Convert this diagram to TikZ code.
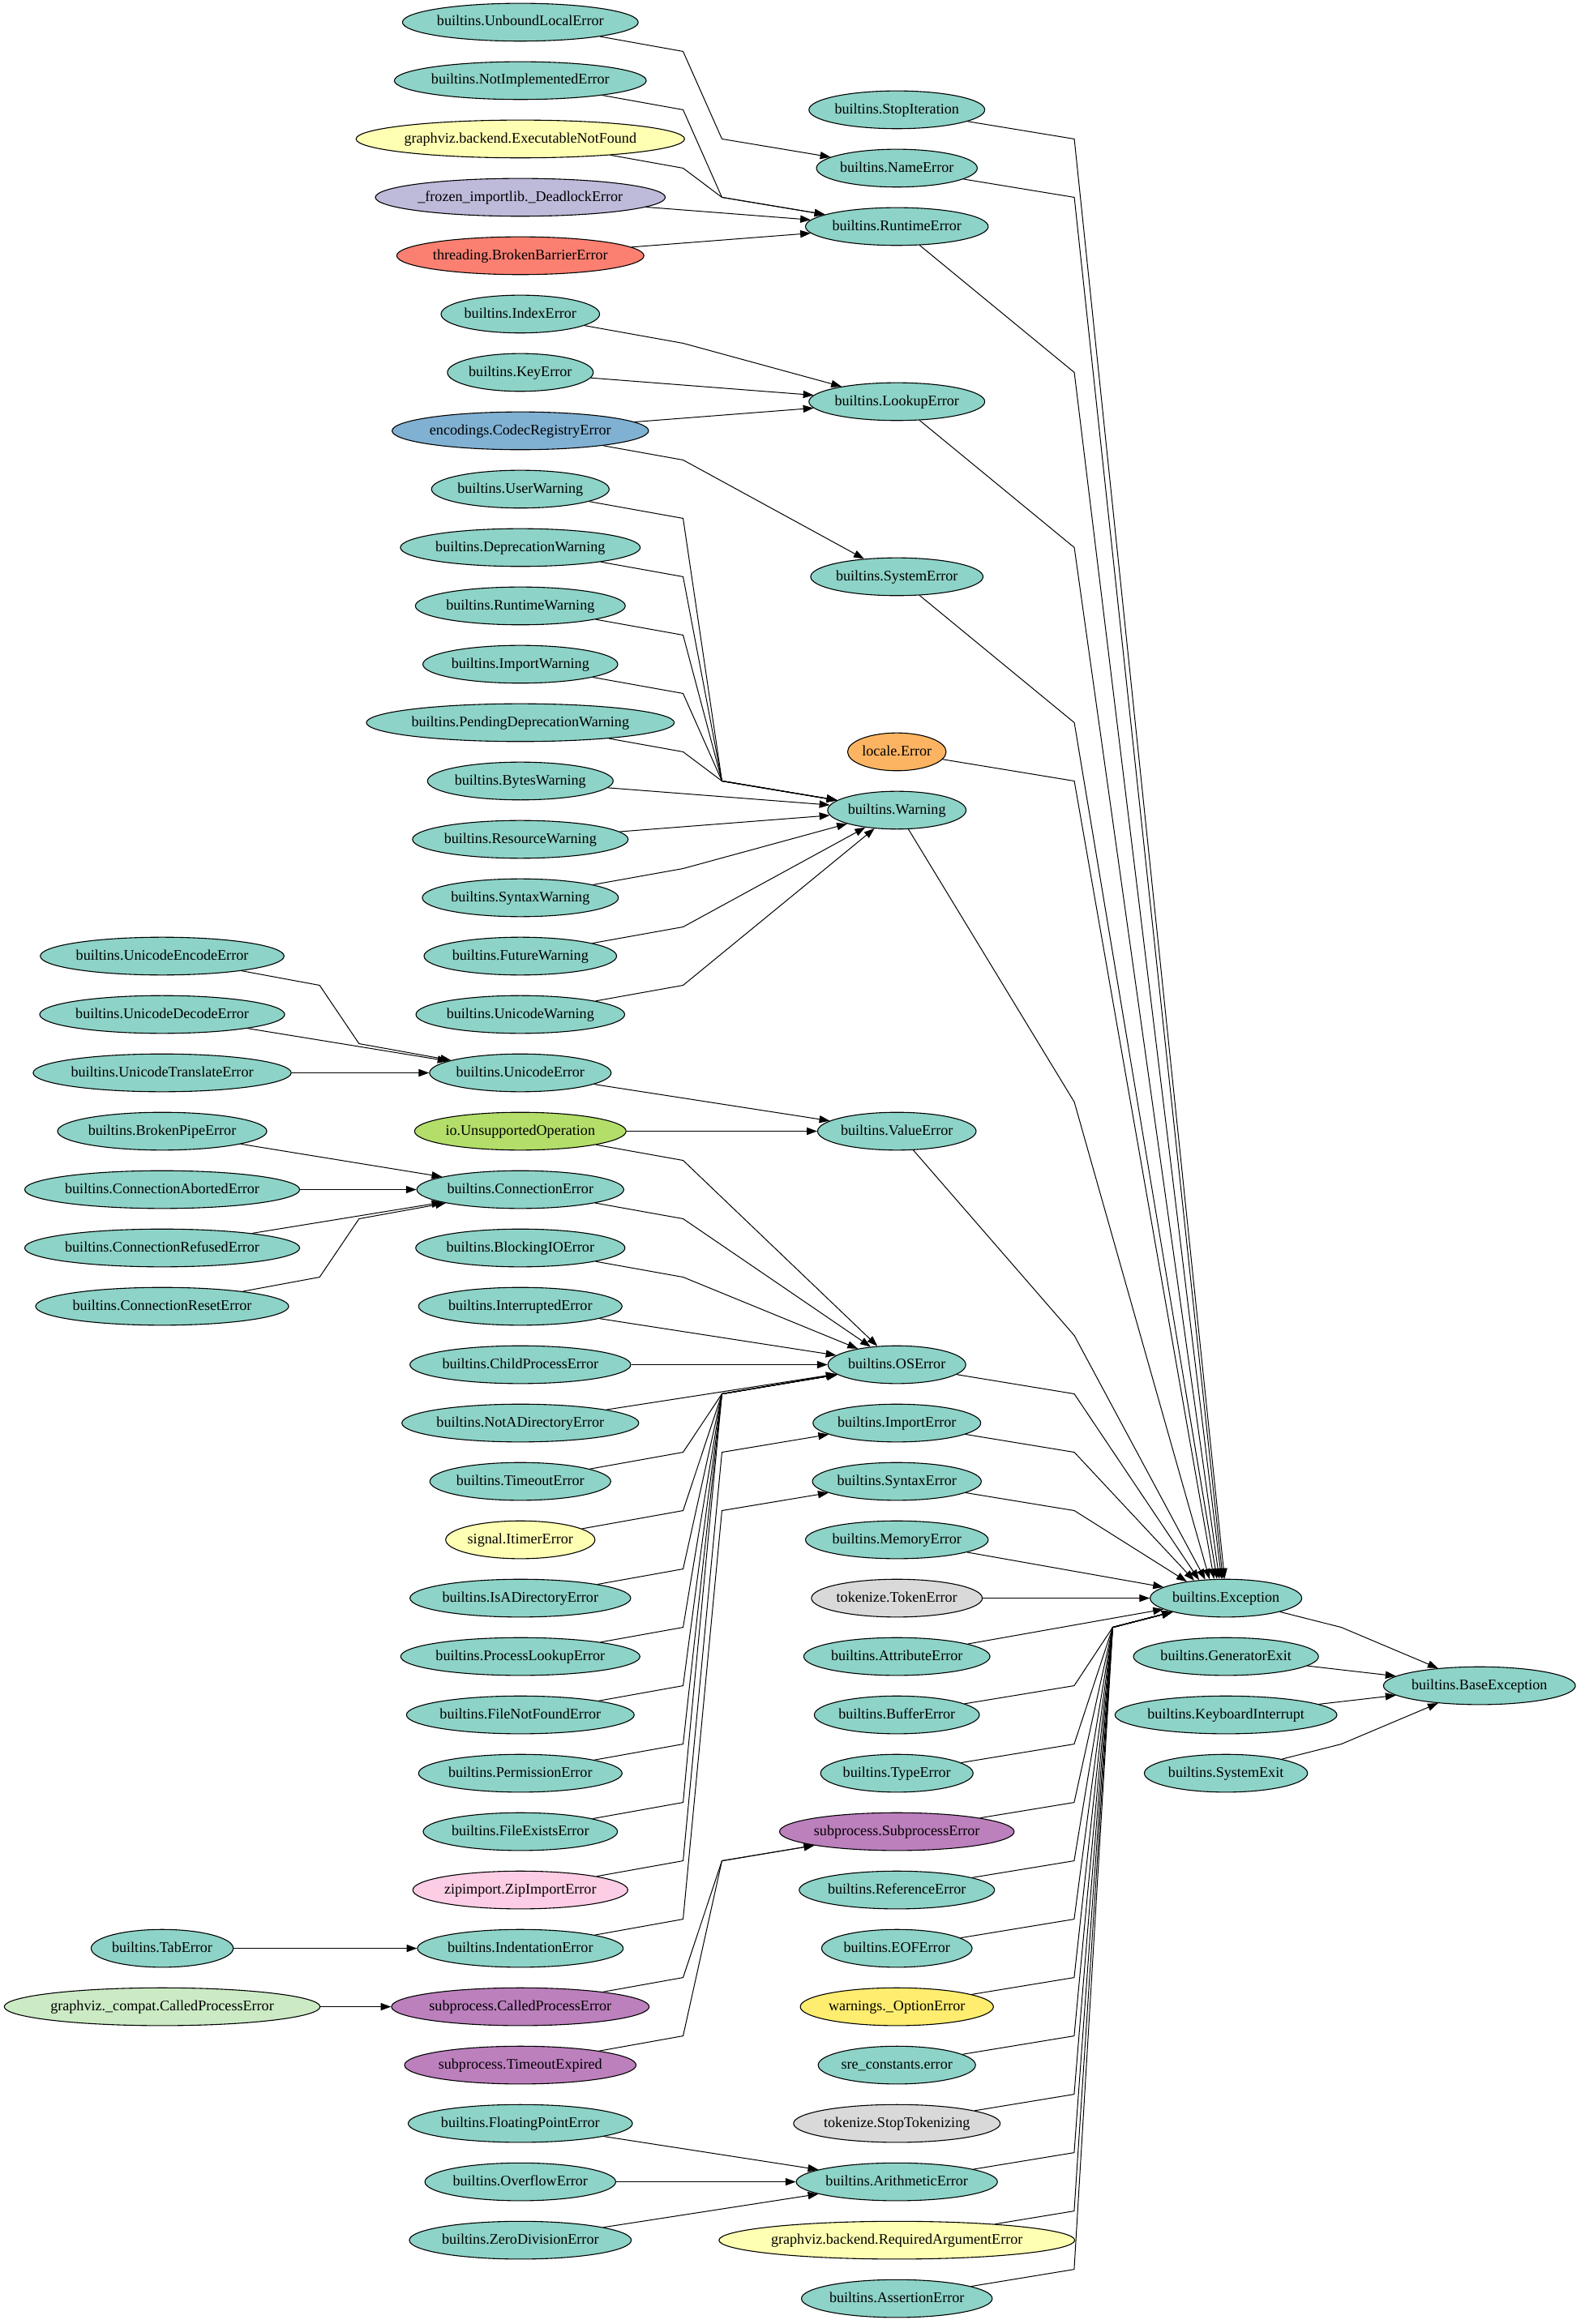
\documentclass[tikz,border=0pt]{standalone}
\usepackage{fontspec}
\setmainfont{Liberation Serif}
\usetikzlibrary{arrows.meta,shapes.geometric}
\definecolor{setteal}{HTML}{8DD3C7}
\definecolor{setyellow}{HTML}{FFFFB3}
\definecolor{setlav}{HTML}{BEBADA}
\definecolor{setsalmon}{HTML}{FB8072}
\definecolor{setblue}{HTML}{80B1D3}
\definecolor{setorange}{HTML}{FDB462}
\definecolor{setgreen}{HTML}{B3DE69}
\definecolor{setpink}{HTML}{FCCDE5}
\definecolor{setgrey}{HTML}{D9D9D9}
\definecolor{setpurple}{HTML}{BC80BD}
\definecolor{setmint}{HTML}{CCEBC5}
\definecolor{setgold}{HTML}{FFED6F}

\begin{document}
\begin{tikzpicture}[x=1pt,y=-1pt,
  exnode/.style={ellipse,draw,line width=0.6pt,inner xsep=0pt,inner ysep=0pt,minimum height=25.5pt,text height=7pt,text depth=2pt,font=\fontsize{9.9}{12}\selectfont},
  link/.style={-{Triangle[length=7pt,width=5pt]},line width=0.55pt},
  declare function={ry(\k)=15+39.38*\k;}]
  \useasboundingbox (0,0) rectangle (1069,1568);

  \foreach \n/\k/\c/\t in {encode/16/setteal/builtins.UnicodeEncodeError, decode/17/setteal/builtins.UnicodeDecodeError,
      translate/18/setteal/builtins.UnicodeTranslateError, brokenpipe/19/setteal/builtins.BrokenPipeError,
      aborted/20/setteal/builtins.ConnectionAbortedError, refused/21/setteal/builtins.ConnectionRefusedError,
      reset/22/setteal/builtins.ConnectionResetError, taberr/33/setteal/builtins.TabError,
      gvcalled/34/setmint/graphviz.\_compat.CalledProcessError}{
    \node[exnode,fill=\c] (\n) at (109.4,{ry(\k)}) {\t};
  }

  \foreach \n/\k/\c/\t in {unbound/0/setteal/builtins.UnboundLocalError, notimpl/1/setteal/builtins.NotImplementedError,
      execnf/2/setyellow/graphviz.backend.ExecutableNotFound, deadlock/3/setlav/\_frozen\_importlib.\_DeadlockError,
      barrier/4/setsalmon/threading.BrokenBarrierError, indexerr/5/setteal/builtins.IndexError,
      keyerr/6/setteal/builtins.KeyError, codec/7/setblue/encodings.CodecRegistryError,
      userw/8/setteal/builtins.UserWarning, depw/9/setteal/builtins.DeprecationWarning,
      rtw/10/setteal/builtins.RuntimeWarning, impw/11/setteal/builtins.ImportWarning,
      pendw/12/setteal/builtins.PendingDeprecationWarning, bytesw/13/setteal/builtins.BytesWarning,
      resw/14/setteal/builtins.ResourceWarning, synw/15/setteal/builtins.SyntaxWarning,
      futw/16/setteal/builtins.FutureWarning, uniw/17/setteal/builtins.UnicodeWarning,
      unicerr/18/setteal/builtins.UnicodeError, iounsup/19/setgreen/io.UnsupportedOperation,
      connerr/20/setteal/builtins.ConnectionError, blocking/21/setteal/builtins.BlockingIOError,
      interrupted/22/setteal/builtins.InterruptedError, childproc/23/setteal/builtins.ChildProcessError,
      notadir/24/setteal/builtins.NotADirectoryError, timeout/25/setteal/builtins.TimeoutError,
      itimer/26/setyellow/signal.ItimerError, isadir/27/setteal/builtins.IsADirectoryError,
      proclookup/28/setteal/builtins.ProcessLookupError, filenf/29/setteal/builtins.FileNotFoundError,
      permission/30/setteal/builtins.PermissionError, fileexists/31/setteal/builtins.FileExistsError,
      zipimp/32/setpink/zipimport.ZipImportError, indent/33/setteal/builtins.IndentationError,
      called/34/setpurple/subprocess.CalledProcessError, tmoexp/35/setpurple/subprocess.TimeoutExpired,
      floatpt/36/setteal/builtins.FloatingPointError, overflow/37/setteal/builtins.OverflowError,
      zerodiv/38/setteal/builtins.ZeroDivisionError}{
    \node[exnode,fill=\c] (\n) at (351,{ry(\k)}) {\t};
  }

  \foreach \n/\k/\c/\t in {stopit/1.5/setteal/builtins.StopIteration, nameerr/2.5/setteal/builtins.NameError,
      runtime/3.5/setteal/builtins.RuntimeError, lookup/6.5/setteal/builtins.LookupError,
      syserr/9.5/setteal/builtins.SystemError, localeerr/12.5/setorange/locale.Error,
      warn/13.5/setteal/builtins.Warning, valueerr/19/setteal/builtins.ValueError,
      oserr/23/setteal/builtins.OSError, importerr/24/setteal/builtins.ImportError,
      syntaxerr/25/setteal/builtins.SyntaxError, memory/26/setteal/builtins.MemoryError,
      tokenerr/27/setgrey/tokenize.TokenError, attr/28/setteal/builtins.AttributeError,
      buffer/29/setteal/builtins.BufferError, typeerr/30/setteal/builtins.TypeError,
      subperr/31/setpurple/subprocess.SubprocessError, referr/32/setteal/builtins.ReferenceError,
      eof/33/setteal/builtins.EOFError, opterr/34/setgold/warnings.\_OptionError,
      sre/35/setteal/sre\_constants.error, stoptok/36/setgrey/tokenize.StopTokenizing,
      arith/37/setteal/builtins.ArithmeticError, reqarg/38/setyellow/graphviz.backend.RequiredArgumentError,
      asserterr/39/setteal/builtins.AssertionError}{
    \node[exnode,fill=\c] (\n) at (605,{ry(\k)}) {\t};
  }

  \foreach \n/\k/\t in {exc/27/builtins.Exception, genexit/28/builtins.GeneratorExit,
      kbint/29/builtins.KeyboardInterrupt, sysexit/30/builtins.SystemExit}{
    \node[exnode,fill=setteal] (\n) at (827,{ry(\k)}) {\t};
  }
  \node[exnode,fill=setteal] (base) at (998,{ry(28.5)}) {builtins.BaseException};

  \foreach \s/\t in {decode/unicerr, translate/unicerr, brokenpipe/connerr, aborted/connerr, refused/connerr,
      taberr/indent, gvcalled/called, deadlock/runtime, barrier/runtime, keyerr/lookup, codec/lookup,
      bytesw/warn, resw/warn, unicerr/valueerr, iounsup/valueerr, interrupted/oserr, childproc/oserr,
      notadir/oserr, floatpt/arith, overflow/arith, zerodiv/arith, memory/exc, tokenerr/exc, attr/exc,
      genexit/base, kbint/base}{
    \draw[link] (\s) -- (\t);
  }

  \draw[link] (encode) -- (215.6,{ry(16.5)}) -- (242.2,{ry(17.5)}) -- (unicerr);
  \draw[link] (reset) -- (215.6,{ry(21.5)}) -- (242.2,{ry(20.5)}) -- (connerr);

  \draw[link] (unbound) -- (460.8,{ry(0.5)}) -- (487,{ry(2)}) -- (nameerr);
  \draw[link] (notimpl) -- (460.8,{ry(1.5)}) -- (487,{ry(3)}) -- (runtime);
  \draw[link] (execnf) -- (460.8,{ry(2.5)}) -- (487,{ry(3)}) -- (runtime);
  \draw[link] (indexerr) -- (460.8,{ry(5.5)}) -- (lookup);
  \draw[link] (codec) -- (460.8,{ry(7.5)}) -- (syserr);
  \foreach \s/\k in {userw/8, depw/9, rtw/10, impw/11, pendw/12}{
    \draw[link] (\s) -- (460.8,{ry(\k+0.5)}) -- (487,{ry(13)}) -- (warn);
  }
  \foreach \s/\k in {synw/15, futw/16, uniw/17}{
    \draw[link] (\s) -- (460.8,{ry(\k-0.5)}) -- (warn);
  }
  \foreach \s/\k in {iounsup/19, connerr/20, blocking/21}{
    \draw[link] (\s) -- (460.8,{ry(\k+0.5)}) -- (oserr);
  }
  \foreach \s/\k in {timeout/25, itimer/26, isadir/27, proclookup/28, filenf/29, permission/30, fileexists/31}{
    \draw[link] (\s) -- (460.8,{ry(\k-0.5)}) -- (487,{ry(23.5)}) -- (oserr);
  }
  \draw[link] (zipimp) -- (460.8,{ry(31.5)}) -- (487,{ry(24.5)}) -- (importerr);
  \draw[link] (indent) -- (460.8,{ry(32.5)}) -- (487,{ry(25.5)}) -- (syntaxerr);
  \draw[link] (called) -- (460.8,{ry(33.5)}) -- (487,{ry(31.5)}) -- (subperr);
  \draw[link] (tmoexp) -- (460.8,{ry(34.5)}) -- (487,{ry(31.5)}) -- (subperr);

  \foreach \s/\b/\a in {stopit/2/94, nameerr/3/99, runtime/6/103, lookup/9/109, syserr/12/115,
      localeerr/13/122, warn/18.5/131, valueerr/22.5/138, oserr/23.5/146, importerr/24.5/151,
      syntaxerr/25.5/157}{
    \draw[link] (\s) -- (724.7,{ry(\b)}) -- (exc.\a);
  }
  \foreach \s/\k in {buffer/29, typeerr/30, subperr/31, referr/32, eof/33, opterr/34, sre/35,
      stoptok/36, arith/37, reqarg/38, asserterr/39}{
    \draw[link] (\s) -- (724.6,{ry(\k-0.5)}) -- (750.6,{ry(27.5)}) -- (exc);
  }

  \draw[link] (exc) -- (904.8,{ry(27.5)}) -- (base);
  \draw[link] (sysexit) -- (904.8,{ry(29.5)}) -- (base);
\end{tikzpicture}
\end{document}
